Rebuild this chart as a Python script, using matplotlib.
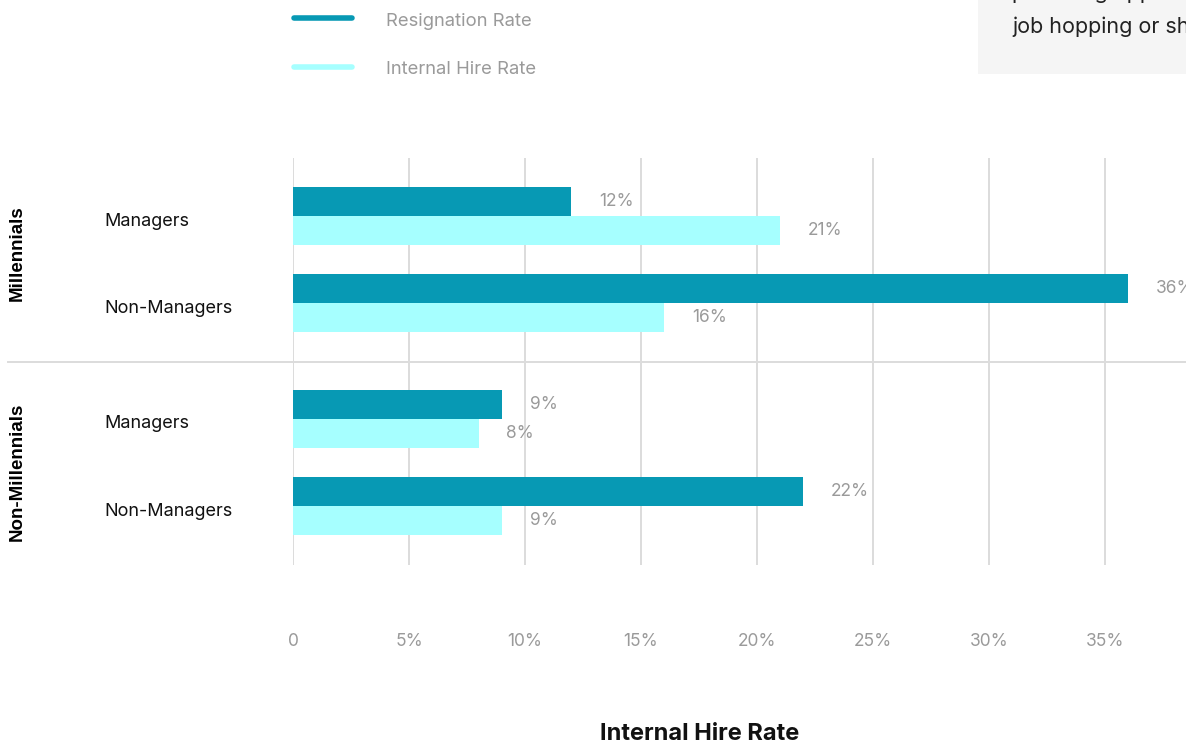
import matplotlib
matplotlib.use("Agg")
import matplotlib.pyplot as plt
from matplotlib.lines import Line2D
from matplotlib.patches import Rectangle

# ---- data ----
groups = ["Millennials", "Non-Millennials"]
roles = ["Managers", "Non-Managers", "Managers", "Non-Managers"]
resignation = [12, 36, 9, 22]
internal_hire = [21, 16, 8, 9]
xticks = [0, 5, 10, 15, 20, 25, 30, 35]
xtick_labels = ["0", "5%", "10%", "15%", "20%", "25%", "30%", "35%"]

DARK = "#0799b4"
LIGHT = "#a6ffff"
GRAY = "#9a9a9a"
W, H = 1186, 745

plt.rcParams["font.family"] = ["Inter", "DejaVu Sans"]

fig = plt.figure(figsize=(W / 100, H / 100), dpi=100)


def fx(px):
    return px / W


def fy(py):
    return 1 - py / H


# axes spans x 293..1186 px, y 158..565 px
ax = fig.add_axes([fx(293), fy(565), fx(W - 293), (565 - 158) / H])
ax.set_xlim(0, (W - 293) / 23.2)
ax.set_ylim(4.678, 0)

row_y = [0.667, 1.667, 3.0, 4.0]
bh = 0.333
ax.barh([y - bh / 2 for y in row_y], resignation, height=bh, color=DARK, zorder=3)
ax.barh([y + bh / 2 for y in row_y], internal_hire, height=bh, color=LIGHT, zorder=3)

for y, r, h in zip(row_y, resignation, internal_hire):
    ax.text(r + 1.2, y - bh / 2, f"{r}%", va="center", ha="left",
            fontsize=12.5, color=GRAY)
    ax.text(h + 1.2, y + bh / 2, f"{h}%", va="center", ha="left",
            fontsize=12.5, color=GRAY)

for v in xticks:
    ax.axvline(v, color="#dcdcdc", lw=1.4, zorder=1)

ax.set_xticks(xticks)
ax.set_xticklabels(xtick_labels, fontsize=12.5, color=GRAY)
ax.tick_params(axis="x", length=0, pad=49)
ax.set_yticks([])
for s in ax.spines.values():
    s.set_visible(False)

# role labels and group labels
for y, name in zip(row_y, roles):
    py = 158 + y * 87
    fig.text(fx(104), fy(py + 5), name, fontsize=13, color="#111111",
             ha="left", va="center")
fig.text(fx(17), fy(253), groups[0], rotation=90, fontsize=13.5,
         fontweight="bold", family="Liberation Sans", ha="center", va="center")
fig.text(fx(17), fy(472), groups[1], rotation=90, fontsize=13.5,
         fontweight="bold", family="Liberation Sans", ha="center", va="center")

# group separator
fig.add_artist(Line2D([fx(8), 1], [fy(362), fy(362)], color="#dcdcdc", lw=1.4))

fig.text(fx(700), fy(734), "Internal Hire Rate", fontsize=17,
         fontweight="bold", color="#111111", ha="center", va="center")

# legend
for py, col, label in [(18, DARK, "Resignation Rate"),
                       (67, LIGHT, "Internal Hire Rate")]:
    fig.add_artist(Line2D([fx(294), fx(352)], [fy(py), fy(py)], color=col,
                          lw=4, solid_capstyle="round"))
    fig.text(fx(386), fy(py + 3), label, fontsize=13.3, color=GRAY,
             ha="left", va="center")

# note box in top-right
fig.add_artist(Rectangle((fx(978), fy(74)), fx(W - 978), 74 / H,
                         color="#f5f5f5", lw=0, zorder=0))
fig.text(fx(1012), fy(-7), "providing opportunities", fontsize=15.5,
         color="#222222", ha="left", va="center")
fig.text(fx(1012), fy(27), "job hopping or short tenure", fontsize=15.5,
         color="#222222", ha="left", va="center")

fig.savefig("out.png", dpi=100)
